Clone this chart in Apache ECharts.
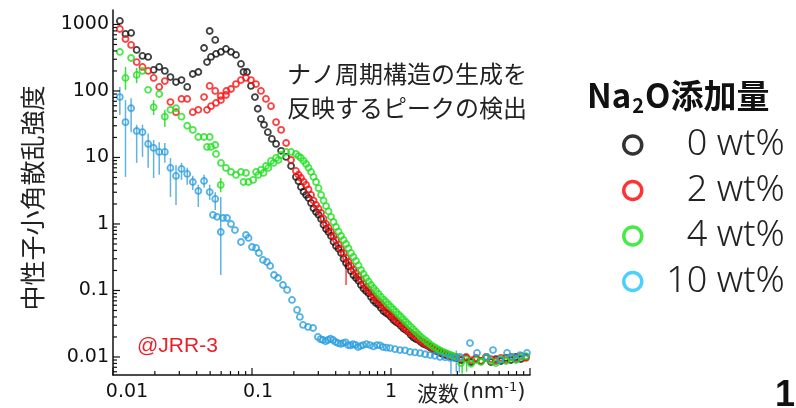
<!DOCTYPE html>
<html>
<head>
<meta charset="utf-8">
<script src="https://cdn.jsdelivr.net/npm/echarts@6/dist/echarts.min.js"></script>
<style>
  html, body { margin: 0; padding: 0; background: #fff; }
  #chart { width: 796px; height: 408px; }
</style>
</head>
<body>
<div id="chart"></div>
<script>
// values: [q (nm^-1), intensity]
const seriesNames = ['0 wt%', '2 wt%', '4 wt%', '10 wt%'];

const wt0 = [[0.0112,1130],[0.0123,720],[0.0135,745],[0.0148,414],[0.0163,336],[0.0179,325],[0.0196,207],[0.0215,230],[0.0236,200],[0.0259,162],[0.0284,136],[0.0311,146],[0.0342,115],[0.0375,180],[0.0411,193],[0.0452,443],[0.0496,798],[0.0544,585],
  [0.0475,272],[0.0507,325],[0.0551,360],[0.0598,386],[0.065,429],[0.0706,386],[0.0767,348],[0.0833,255],[0.0869,193],[0.0921,193],[0.0983,119],[0.105,81],[0.110,54],[0.116,38],[0.122,31],[0.130,24],[0.139,19],[0.149,16],[0.162,12.6],[0.176,10.2],[0.191,7.45],[0.207,5.1],[0.225,3.6],[0.245,2.73],[0.266,2.07],[0.289,1.51],[0.314,1.19],[0.341,0.84],[0.370,0.66],[0.402,0.467],[0.437,0.367],[0.475,0.259],[0.515,0.196],[0.560,0.154],[0.608,0.121],[0.661,0.0985],[0.718,0.08],[0.780,0.065],[0.847,0.0546],[0.921,0.0459],[1.0,0.0399],[1.087,0.0336],[1.18,0.0293],[1.28,0.0255],[1.39,0.0214],[1.51,0.0186],[1.64,0.0168],[1.79,0.0151],[1.94,0.0136],[2.11,0.0123],[2.29,0.0114],[2.49,0.0107],[2.70,0.0103],[2.94,0.0097],[3.19,0.009],[3.47,0.0097],[3.77,0.0084],[4.09,0.0093],[4.44,0.0087],[4.82,0.0097],[5.24,0.0084],[5.69,0.0093],[6.18,0.0087],[6.72,0.0097],[7.29,0.009],[7.93,0.01],[8.61,0.0093],[9.35,0.01],
  [0.216,4.4],[0.235,3.05],[0.255,2.45],[0.277,1.72],[0.301,1.38],[0.327,0.97],[0.355,0.76],[0.386,0.54],[0.419,0.425],[0.456,0.30],[0.494,0.232],[0.537,0.17],[0.584,0.14],[0.634,0.107],[0.689,0.091],[0.748,0.0705],[0.813,0.061],[0.883,0.049],[0.960,0.0435],[1.043,0.036],[1.133,0.032],[1.229,0.0268],[1.334,0.0238],[1.449,0.0197],[1.574,0.018],[1.713,0.0157],[1.864,0.0145],[2.023,0.0127],[2.198,0.012],[2.388,0.0109],[2.593,0.0104],[2.818,0.0099]];

const wt2 = [[0.0112,855],[0.0123,605],[0.0135,492],[0.0148,272],[0.0163,230],[0.0179,200],[0.0196,157],[0.0215,115],[0.0236,141],[0.0259,68],[0.0284,48],[0.0311,76],[0.0342,76],[0.0375,48],[0.0411,52],[0.0452,81],[0.0496,119],[0.0544,100],[0.0596,84],[0.0654,100],
  [0.0475,52],[0.0507,59],[0.0551,66],[0.0598,73],[0.065,87],[0.0706,107],[0.0767,127],[0.0833,146],[0.0905,157],[0.0983,146],[0.1068,127],[0.116,100],[0.126,76],[0.137,59],[0.149,34],[0.162,26],[0.176,16.5],[0.191,9.17],[0.207,6.27],[0.225,4.92],[0.245,3.86],[0.266,2.73],[0.289,1.93],[0.314,1.47],[0.341,1.0],[0.370,0.758],[0.402,0.574],[0.437,0.42],[0.475,0.309],[0.515,0.234],[0.560,0.183],[0.608,0.144],[0.661,0.113],[0.718,0.0918],[0.780,0.0745],[0.847,0.0626],[0.921,0.0509],[1.0,0.0428],[1.087,0.036],[1.18,0.0314],[1.28,0.0264],[1.39,0.0229],[1.51,0.02],[1.64,0.0174],[1.79,0.0156],[1.94,0.0141],[2.11,0.0127],[2.29,0.0118],[2.49,0.0111],[2.70,0.0103],[2.94,0.01],[3.19,0.0093],[3.47,0.01],[3.77,0.009],[4.09,0.0097],[4.44,0.0087],[4.82,0.01],[5.24,0.0093],[5.69,0.0087],[6.18,0.0097],[6.72,0.009],[7.29,0.01],[7.93,0.0093],[8.61,0.0103],[9.35,0.0097],
  [0.216,5.5],[0.235,4.3],[0.255,3.3],[0.277,2.25],[0.301,1.7],[0.327,1.2],[0.355,0.88],[0.386,0.655],[0.419,0.49],[0.456,0.365],[0.494,0.27],[0.537,0.205],[0.584,0.164],[0.634,0.126],[0.689,0.102],[0.748,0.082],[0.813,0.0685],[0.883,0.0568],[0.960,0.0465],[1.043,0.0395],[1.133,0.0334],[1.229,0.0289],[1.334,0.0245],[1.449,0.0215],[1.574,0.0186],[1.713,0.0165],[1.864,0.0148],[2.023,0.0134],[2.198,0.0122],[2.388,0.0114],[2.593,0.0107],[2.818,0.0101]];

const wt4 = [[0.0112,386],[0.0123,157],[0.0135,313],[0.0148,174],[0.0163,200],[0.0179,104],[0.0196,57],[0.0215,90],[0.0236,41],[0.0259,52],[0.0284,55],[0.0311,41],[0.0342,30],[0.0375,26],[0.0411,20.3],[0.0452,20.3],[0.0496,20.3],[0.0544,15.4],[0.0596,3.86],
  [0.0475,14.4],[0.0507,14.4],[0.0551,11.3],[0.0598,8.27],[0.065,6.96],[0.0706,6.06],[0.0767,5.46],[0.0833,6.06],[0.0869,4.28],[0.0905,5.85],[0.0944,4.28],[0.102,4.59],[0.107,6.06],[0.111,5.46],[0.116,6.49],[0.121,5.85],[0.126,7.45],[0.131,6.96],[0.137,8.86],[0.143,8.27],[0.149,9.83],[0.155,9.17],[0.162,10.9],[0.176,12.1],[0.191,12.1],[0.207,11.3],[0.225,9.83],[0.245,7.98],[0.266,6.06],[0.289,4.28],[0.314,2.73],[0.341,1.86],[0.370,1.28],[0.402,0.90],[0.437,0.66],[0.475,0.50],[0.515,0.367],[0.560,0.278],[0.608,0.203],[0.661,0.154],[0.718,0.121],[0.780,0.0985],[0.847,0.08],[0.921,0.0672],[1.0,0.0564],[1.087,0.0475],[1.18,0.0399],[1.28,0.0336],[1.39,0.0283],[1.51,0.0238],[1.64,0.02],[1.79,0.0174],[1.94,0.0151],[2.11,0.0136],[2.29,0.0123],[2.49,0.0114],[2.70,0.0107],[2.94,0.01],[3.19,0.0081],[3.47,0.0093],[3.77,0.0079],[4.09,0.009],[4.44,0.0084],[4.82,0.0097],[5.24,0.0087],[5.69,0.0081],[6.18,0.0093],[6.72,0.0087],[7.29,0.0097],[7.93,0.009],[8.61,0.01],[9.35,0.0103],
  [0.216,10.5],[0.235,8.9],[0.255,7.0],[0.277,5.1],[0.301,3.45],[0.327,2.25],[0.355,1.55],[0.386,1.07],[0.419,0.77],[0.456,0.575],[0.494,0.43],[0.537,0.32],[0.584,0.238],[0.634,0.177],[0.689,0.137],[0.748,0.109],[0.813,0.089],[0.883,0.073],[0.960,0.0615],[1.043,0.0518],[1.133,0.0435],[1.229,0.0366],[1.334,0.0308],[1.449,0.026],[1.574,0.0218],[1.713,0.0187],[1.864,0.0162],[2.023,0.0143],[2.198,0.0129],[2.388,0.0118],[2.593,0.011],[2.818,0.0103]];

const wt10 = [[0.0112,81],[0.0123,34],[0.0135,55],[0.0148,25],[0.0163,24],[0.0179,16],[0.0196,13.9],[0.0215,12.1],[0.0236,12.1],[0.0259,6.96],[0.0284,5.27],[0.0311,6.72],[0.0342,5.65],[0.0375,4.28],[0.0411,3.13],[0.0452,4.43],[0.0496,3.02],[0.0544,2.38],[0.0596,0.758],
  [0.0524,1.37],[0.056,1.28],[0.0619,1.23],[0.0661,1.23],[0.0706,1.0],[0.0754,0.81],[0.0833,0.536],[0.0905,0.683],[0.0944,0.616],[0.1,0.451],[0.107,0.436],[0.112,0.366],[0.12,0.288],[0.128,0.269],[0.135,0.234],[0.144,0.171],[0.154,0.154],[0.167,0.121],[0.179,0.102],[0.194,0.072],[0.211,0.051],[0.221,0.04],[0.233,0.0303],[0.253,0.0283],[0.275,0.0273],[0.298,0.02],[0.324,0.018],[0.352,0.018],[0.383,0.018],[0.416,0.0162],[0.452,0.0162],[0.491,0.0151],[0.533,0.0156],[0.579,0.0141],[0.629,0.0151],[0.706,0.0151],[0.793,0.0151],[0.876,0.0141],[0.984,0.0136],[1.16,0.0127],[1.37,0.0119],[1.62,0.0114],[1.91,0.0107],[2.25,0.01],[2.66,0.0097],[3.14,0.01],[3.7,0.0162],[4.16,0.0115],[4.91,0.01],[5.42,0.0127],[6.09,0.009],[6.84,0.0115],[7.55,0.01],[8.49,0.0107],[9.51,0.0115],
  [0.311,0.0185],[0.338,0.0172],[0.367,0.0188],[0.399,0.0168],[0.434,0.0157],[0.471,0.0166],[0.512,0.0149],[0.556,0.0152],[0.604,0.0146],[0.666,0.0156],[0.748,0.0144],[0.833,0.015],[0.928,0.0138],[1.07,0.0131],[1.26,0.0126],[1.49,0.0117],[1.76,0.011],[2.07,0.0104],[2.45,0.0099],[2.88,0.0096]];

// error bars: [q, low, high]
const wt2Err = [[0.475,0.121,0.319]];
const wt4Err = [[0.0123,104,230],[0.0148,131,222],[0.0196,43.5,73],[0.0236,28.7,52],[0.0596,3.0,4.9],[3.25,0.0056,0.0095],[3.5,0.006,0.0098]];
const wt10Err = [[0.0112,43.5,115],[0.0123,5.1,73],[0.0135,24,78],[0.0148,8.3,31],[0.0163,10.2,31],[0.0179,7,23],[0.0196,4.9,18.3],[0.0215,5.5,17],[0.0236,8.3,16.5],[0.0259,2.55,9.8],[0.0284,1.93,7.7],[0.0311,4.6,8.3],[0.0342,3.9,7],[0.0375,3.24,5.3],[0.0411,1.8,3.9],[0.0452,3.5,5.5],[0.0496,2.3,3.9],[0.0544,1.62,3.0],[0.0596,0.171,2.55],[2.7,0.0055,0.012],[2.95,0.006,0.0125],[3.1,0.0058,0.011]];

// axis ticks and labels
const xMajorTicks = [0.01, 0.1, 1, 10];
const xMinorTicks = [0.02,0.03,0.04,0.05,0.06,0.07,0.08,0.09, 0.2,0.3,0.4,0.5,0.6,0.7,0.8,0.9, 2,3,4,5,6,7,8,9];
const xTickLabels = ['0.01', '0.1', '1', ''];
const yMajorTicks = [0.01, 0.1, 1, 10, 100, 1000];
const yMinorTicks = [0.006,0.007,0.008,0.009, 0.02,0.03,0.04,0.05,0.06,0.07,0.08,0.09, 0.2,0.3,0.4,0.5,0.6,0.7,0.8,0.9, 2,3,4,5,6,7,8,9, 20,30,40,50,60,70,80,90, 200,300,400,500,600,700,800,900];
const yTickLabels = ['0.01', '0.1', '1', '10', '100', '1000'];

const X_MIN = 0.01, X_MAX = 10;
const Y_MIN = 0.00536, Y_MAX = 1650;

const colors = ['#111111', '#ff1010', '#20e020', '#2c9fe0'];
const legendColors = ['#000000', '#ff0000', '#19e619', '#1ec6fa'];
const errColors = ['#444444', '#ff4040', '#40dd40', '#62b2e2'];

function labelIndex(v, list) {
  for (let i = 0; i < list.length; i++) {
    if (Math.abs(Math.log10(v) - Math.log10(list[i])) < 1e-6) return i;
  }
  return -1;
}

const chart = echarts.init(document.getElementById('chart'));

function errSeries(data, color) {
  return {
    type: 'custom',
    silent: true,
    z: 1,
    data: data,
    encode: { x: 0, y: [1, 2] },
    renderItem: function (params, api) {
      const p1 = api.coord([api.value(0), api.value(1)]);
      const p2 = api.coord([api.value(0), api.value(2)]);
      return { type: 'line', shape: { x1: p1[0], y1: p1[1], x2: p2[0], y2: p2[1] },
               style: { stroke: color, lineWidth: 1.5 } };
    }
  };
}

function tickSeries(values, len, onX) {
  return {
    type: 'custom',
    silent: true,
    z: 5,
    data: values.map(v => onX ? [v, Y_MIN] : [X_MIN, v]),
    encode: { x: 0, y: 1 },
    renderItem: function (params, api) {
      const p = api.coord([api.value(0), api.value(1)]);
      const shape = onX ? { x1: p[0], y1: p[1], x2: p[0], y2: p[1] - len }
                        : { x1: p[0], y1: p[1], x2: p[0] + len, y2: p[1] };
      return { type: 'line', shape: shape, style: { stroke: '#111', lineWidth: 1.2 } };
    }
  };
}

function dotSeries(name, data, color, z) {
  return {
    name: name,
    type: 'scatter',
    data: data,
    symbol: 'circle',
    symbolSize: 6,
    z: z,
    itemStyle: { color: 'rgba(0,0,0,0)', borderColor: color, borderWidth: 1.8 }
  };
}

const option = {
  animation: false,
  backgroundColor: '#fff',
  grid: { left: 113, right: 266, top: 10, bottom: 33, containLabel: false },
  xAxis: {
    type: 'log', min: X_MIN, max: X_MAX,
    axisLine: { show: true, lineStyle: { color: '#111', width: 1.5 } },
    axisTick: { show: false },
    splitLine: { show: false },
    axisLabel: {
      margin: 8, color: '#111', fontSize: 19, fontFamily: 'DejaVu Sans',
      showMaxLabel: false,
      formatter: function (v) {
        const i = labelIndex(v, xMajorTicks);
        if (i === 0) return '{m|' + xTickLabels[0] + '}';
        if (i === 1) return '{n|' + xTickLabels[1] + '}';
        return i < 0 ? '' : xTickLabels[i];
      },
      rich: {
        m: { fontSize: 19, fontFamily: 'DejaVu Sans', color: '#111', padding: [0, 0, 0, 28] },
        n: { fontSize: 19, fontFamily: 'DejaVu Sans', color: '#111', padding: [0, 0, 0, 12] }
      }
    }
  },
  yAxis: {
    type: 'log', min: Y_MIN, max: Y_MAX,
    axisLine: { show: true, lineStyle: { color: '#111', width: 1.5 } },
    axisTick: { show: false },
    splitLine: { show: false },
    axisLabel: {
      margin: 4, color: '#111', fontSize: 19, fontFamily: 'DejaVu Sans',
      formatter: function (v) {
        const i = labelIndex(v, yMajorTicks);
        return i < 0 ? '' : yTickLabels[i];
      }
    }
  },
  legend: {
    orient: 'vertical', left: 617, top: 122,
    itemWidth: 18, itemHeight: 18, itemGap: 9.5,
    icon: 'circle',
    selectedMode: false,
    data: seriesNames.map((n, i) => ({
      name: n,
      itemStyle: { color: 'rgba(0,0,0,0)', borderColor: legendColors[i], borderWidth: 3.5 }
    })),
    formatter: n => '{t|' + n + '}',
    textStyle: {
      rich: { t: { width: 138, align: 'right', fontSize: 36, fontFamily: 'Noto Sans', fontWeight: 300, color: '#222', lineHeight: 36 } }
    }
  },
  graphic: [
    { type: 'text', x: 32, y: 198, rotation: Math.PI / 2,
      style: { text: '中性子小角散乱強度', fontSize: 25, fontFamily: 'Noto Sans CJK JP', fill: '#222', align: 'center', verticalAlign: 'middle' } },
    { type: 'text', x: 287, y: 57,
      style: { text: 'ナノ周期構造の生成を\n反映するピークの検出', fontSize: 24, lineHeight: 34, fontFamily: 'Noto Sans CJK JP', fill: '#222', align: 'left', verticalAlign: 'top' } },
    { type: 'text', x: 137, y: 346,
      style: { text: '@JRR-3', fontSize: 21, fontFamily: 'Liberation Sans', fill: '#e8202a', align: 'left', verticalAlign: 'middle' } },
    { type: 'text', x: 417, y: 393,
      style: { text: '{c|波数} {l|(nm}{s|-1}{l|)}', align: 'left', verticalAlign: 'middle',
        rich: {
          c: { fontSize: 21, fontFamily: 'Noto Sans CJK JP', fill: '#222' },
          l: { fontSize: 21, fontFamily: 'DejaVu Sans', fill: '#222' },
          s: { fontSize: 13, fontFamily: 'DejaVu Sans', fill: '#222', padding: [0, 0, 10, 0] }
        } } },
    { type: 'text', x: 587, y: 95,
      style: { text: '{b|Na}{s|2}{b|O添加量}', align: 'left', verticalAlign: 'middle',
        rich: {
          b: { fontSize: 33, fontWeight: 'bold', fontFamily: 'Noto Sans CJK JP', fill: '#111', lineHeight: 40 },
          s: { fontSize: 20, fontWeight: 'bold', fontFamily: 'Noto Sans CJK JP', fill: '#111', verticalAlign: 'bottom', padding: [0, 1, 0, 1] }
        } } },
    { type: 'text', x: 785, y: 396,
      style: { text: '1', fontSize: 36, fontWeight: 'bold', fontFamily: 'Liberation Sans', fill: '#111', align: 'center', verticalAlign: 'middle' } }
  ],
  series: [
    errSeries(wt2Err, errColors[1]),
    errSeries(wt4Err, errColors[2]),
    errSeries(wt10Err, errColors[3]),
    dotSeries(seriesNames[0], wt0, colors[0], 2),
    dotSeries(seriesNames[1], wt2, colors[1], 3),
    dotSeries(seriesNames[2], wt4, colors[2], 4),
    dotSeries(seriesNames[3], wt10, colors[3], 4),
    tickSeries(xMajorTicks, 7, true),
    tickSeries(xMinorTicks, 4, true),
    tickSeries(yMajorTicks, 7, false),
    tickSeries(yMinorTicks, 4, false)
  ]
};

chart.setOption(option);
</script>
</body>
</html>
